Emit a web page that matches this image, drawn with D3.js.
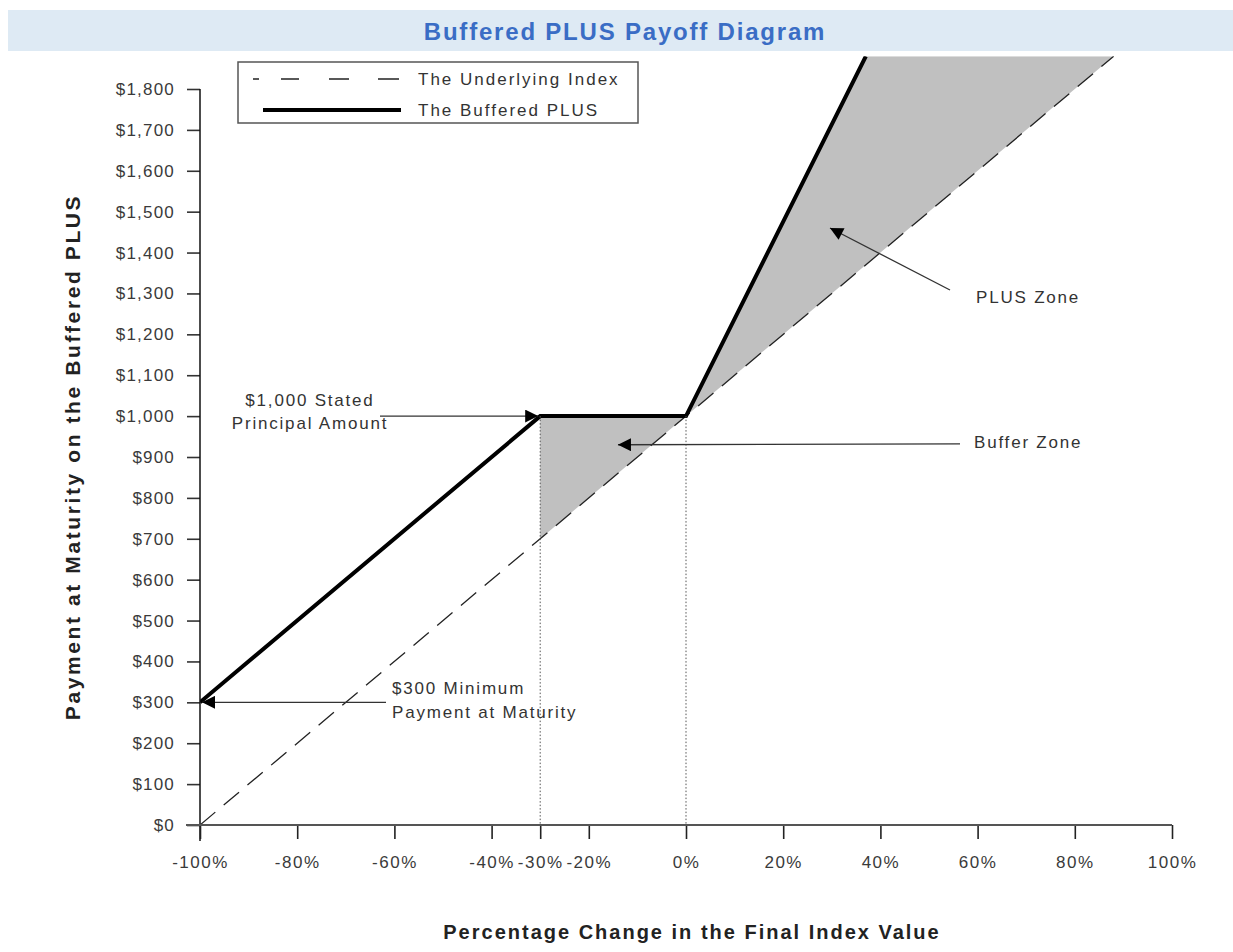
<!DOCTYPE html>
<html>
<head>
<meta charset="utf-8">
<script src="https://cdn.jsdelivr.net/npm/d3@7"></script>
<style>
  html, body { margin: 0; padding: 0; background: #ffffff; }
  svg { display: block; }
  text { font-family: "Liberation Sans", Arial, sans-serif; }
</style>
</head>
<body>
<svg id="chart" width="1233" height="952"></svg>
<script>
// ---- data ----
const title = "Buffered PLUS Payoff Diagram";
const xTickValues = [-100, -80, -60, -40, -30, -20, 0, 20, 40, 60, 80, 100];
const yTickValues = [0, 100, 200, 300, 400, 500, 600, 700, 800, 900, 1000, 1100, 1200, 1300, 1400, 1500, 1600, 1700, 1800];
const indexPct = [-100, 88];
const indexPay = [0, 1880];
const plusPct = [-100, -30, 0, 37];
const plusPay = [300, 1000, 1000, 1880];
const bufferPct = [-30, 0, -30];
const bufferPay = [1000, 1000, 700];
const plusZonePct = [0, 37, 88];
const plusZonePay = [1000, 1880, 1880];
const guidePct = [-30, 0];
const guidePay = [1000, 1000];
const legendLabels = ["The Underlying Index", "The Buffered PLUS"];
const xTitle = "Percentage Change in the Final Index Value";
const yTitle = "Payment at Maturity on the Buffered PLUS";

const svg = d3.select("#chart");
const x = d3.scaleLinear().domain([-100, 100]).range([200, 1172]);
const y = d3.scaleLinear().domain([0, 1800]).range([825, 89]);
const topVal = 1880;

// title bar
svg.append("rect").attr("x", 8).attr("y", 10).attr("width", 1225).attr("height", 41).attr("fill", "#deeaf4");
svg.append("text").attr("x", 625).attr("y", 40).attr("text-anchor", "middle")
  .attr("font-size", 24).attr("font-weight", "bold").attr("fill", "#3a6dc5")
  .attr("letter-spacing", 1.8).text(title);

// defs
const defs = svg.append("defs");
defs.append("clipPath").attr("id", "plotclip").append("rect")
  .attr("x", x(-100)).attr("y", y(topVal)).attr("width", x(100) - x(-100)).attr("height", y(0) - y(topVal));
defs.append("marker").attr("id", "arr").attr("viewBox", "0 0 10 10").attr("refX", 10).attr("refY", 5)
  .attr("markerWidth", 20).attr("markerHeight", 13).attr("markerUnits", "userSpaceOnUse").attr("orient", "auto")
  .append("path").attr("d", "M0,0 L10,5 L0,10 Z").attr("fill", "#000");

const plot = svg.append("g").attr("clip-path", "url(#plotclip)");
const line = d3.line().x(d => x(d[0])).y(d => y(d[1]));
const zip = (a, b) => a.map((v, i) => [v, b[i]]);

// shaded zones
plot.append("path").datum(zip(bufferPct, bufferPay)).attr("d", d => line(d) + "Z").attr("fill", "#c0c0c0");
plot.append("path").datum(zip(plusZonePct, plusZonePay)).attr("d", d => line(d) + "Z").attr("fill", "#c0c0c0");

// dotted guides
guidePct.forEach((p, i) => {
  svg.append("line").attr("x1", x(p)).attr("x2", x(p)).attr("y1", y(guidePay[i])).attr("y2", y(0))
    .attr("stroke", "#555").attr("stroke-width", 1).attr("stroke-dasharray", "1.5,2");
});

// underlying index
plot.append("path").datum(zip(indexPct, indexPay)).attr("d", line).attr("fill", "none")
  .attr("stroke", "#222").attr("stroke-width", 1.3).attr("stroke-dasharray", "20,11");
// buffered plus
plot.append("path").datum(zip(plusPct, plusPay)).attr("d", line).attr("fill", "none")
  .attr("stroke", "#000").attr("stroke-width", 4).attr("stroke-linejoin", "miter");

// axes
const yAxis = d3.axisLeft(y).tickValues(yTickValues).tickSize(13).tickPadding(12)
  .tickFormat(d => "$" + d3.format(",")(d));
const gy = svg.append("g").attr("transform", `translate(${x(-100)},0)`).call(yAxis);
gy.select(".domain").remove();
gy.append("line").attr("x1", 0).attr("x2", 0).attr("y1", y(1800)).attr("y2", y(0) + 16).attr("stroke", "#111").attr("stroke-width", 1.5);
gy.selectAll(".tick line").attr("stroke", "#333").attr("stroke-width", 1.6);
gy.selectAll(".tick text").attr("font-size", 17).attr("letter-spacing", 1.2).attr("fill", "#3a3a3a");

const xAxis = d3.axisBottom(x).tickValues(xTickValues).tickSize(14).tickPadding(17)
  .tickFormat(d => d + "%");
const gx = svg.append("g").attr("transform", `translate(0,${y(0)})`).call(xAxis);
gx.select(".domain").remove();
gx.append("line").attr("x1", x(-100) - 14).attr("x2", x(100)).attr("y1", 0).attr("y2", 0).attr("stroke", "#555").attr("stroke-width", 2);
gx.selectAll(".tick line").attr("stroke", "#222").attr("stroke-width", 1.6);
gx.selectAll(".tick text").attr("font-size", 17).attr("letter-spacing", 1.5).attr("fill", "#3a3a3a");

// axis titles
svg.append("text").attr("transform", `translate(80,${(y(0) + y(1800)) / 2}) rotate(-90)`)
  .attr("text-anchor", "middle").attr("font-size", 21).attr("font-weight", "bold").attr("letter-spacing", 2.6)
  .attr("fill", "#222").text(yTitle);
svg.append("text").attr("x", 692).attr("y", 939).attr("text-anchor", "middle")
  .attr("font-size", 20).attr("font-weight", "bold").attr("letter-spacing", 2)
  .attr("fill", "#222").text(xTitle);

// legend
const lg = svg.append("g");
lg.append("rect").attr("x", 238).attr("y", 62).attr("width", 400).attr("height", 61)
  .attr("fill", "#fff").attr("stroke", "#555").attr("stroke-width", 1.5);
lg.append("line").attr("x1", 253).attr("x2", 399).attr("y1", 79).attr("y2", 79)
  .attr("stroke", "#222").attr("stroke-width", 1.3).attr("stroke-dasharray", "6,22,18,30,20,29,21,100");
lg.append("line").attr("x1", 263).attr("x2", 401).attr("y1", 110).attr("y2", 110)
  .attr("stroke", "#000").attr("stroke-width", 4);
legendLabels.forEach((t, i) => {
  lg.append("text").attr("x", 418).attr("y", 85 + i * 31).attr("font-size", 17).attr("letter-spacing", 2)
    .attr("fill", "#333").text(t);
});

// annotations
const ann = svg.append("g").attr("font-size", 17).attr("letter-spacing", 1.8).attr("fill", "#333");
function arrow(x1, y1, x2, y2) {
  svg.append("line").attr("x1", x1).attr("y1", y1).attr("x2", x2).attr("y2", y2)
    .attr("stroke", "#333").attr("stroke-width", 1.3).attr("marker-end", "url(#arr)");
}
ann.append("text").attr("x", 310).attr("y", 406).attr("text-anchor", "middle").text("$1,000 Stated");
ann.append("text").attr("x", 310).attr("y", 429).attr("text-anchor", "middle").text("Principal Amount");
arrow(380, y(1000), x(-30) - 2, y(1000));

ann.append("text").attr("x", 392).attr("y", 694).text("$300 Minimum");
ann.append("text").attr("x", 392).attr("y", 718).text("Payment at Maturity");
arrow(386, y(300), x(-100) + 2, y(300));

ann.append("text").attr("x", 974).attr("y", 448).text("Buffer Zone");
arrow(960, y(932), x(-14), y(930));

ann.append("text").attr("x", 976).attr("y", 303).text("PLUS Zone");
arrow(950, 290, 830, 228);
</script>
</body>
</html>
